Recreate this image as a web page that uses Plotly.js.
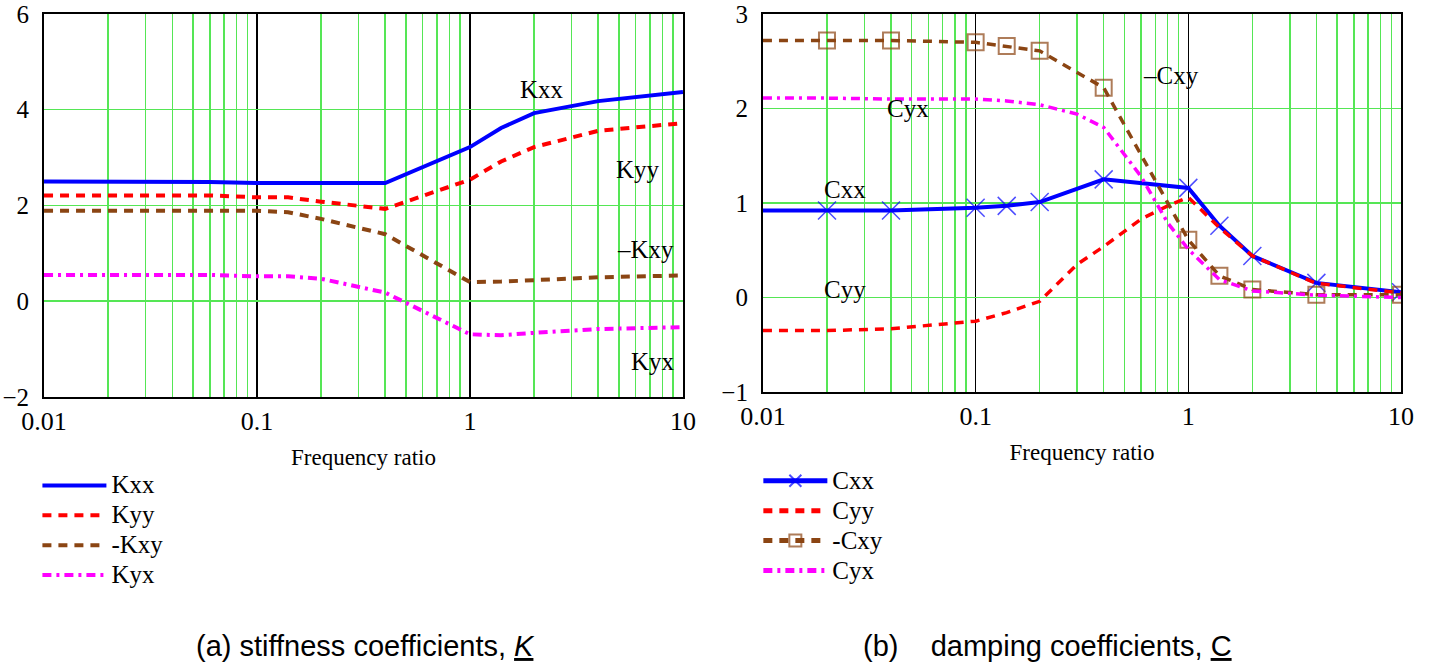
<!DOCTYPE html>
<html>
<head>
<meta charset="utf-8">
<script src="https://cdn.plot.ly/plotly-3.0.1.min.js"></script>
<style>html,body{margin:0;padding:0;background:#fff;}#chart{width:1439px;height:663px;}</style>
</head>
<body>
<div id="chart"></div>
<script>
// ---- Data: stiffness coefficients (a) ----
const freqK = [0.01, 0.02, 0.04, 0.06, 0.1, 0.14, 0.2, 0.4, 1, 1.4, 2, 4, 10];
const Kxx   = [2.50, 2.50, 2.50, 2.49, 2.47, 2.47, 2.47, 2.47, 3.22, 3.62, 3.93, 4.18, 4.37];
const Kyy   = [2.21, 2.21, 2.21, 2.21, 2.17, 2.17, 2.08, 1.93, 2.54, 2.92, 3.22, 3.56, 3.72];
const negKxy= [1.89, 1.89, 1.89, 1.89, 1.89, 1.86, 1.72, 1.40, 0.40, 0.41, 0.44, 0.50, 0.54];
const Kyx   = [0.55, 0.55, 0.55, 0.55, 0.52, 0.52, 0.47, 0.18, -0.69, -0.71, -0.66, -0.58, -0.54];

// ---- Data: damping coefficients (b) ----
const freqC = [0.01, 0.02, 0.04, 0.1, 0.14, 0.2, 0.4, 1, 1.4, 2, 4, 10];
const Cxx   = [0.92, 0.92, 0.92, 0.95, 0.97, 1.01, 1.25, 1.16, 0.76, 0.44, 0.155, 0.056];
const negCxy= [2.72, 2.72, 2.72, 2.70, 2.66, 2.61, 2.22, 0.61, 0.23, 0.085, 0.03, 0.03];
const freqC2= [0.01, 0.02, 0.04, 0.1, 0.14, 0.2, 0.3, 0.4, 0.6, 0.8, 1, 1.4, 2, 4, 10];
const Cyy   = [-0.35, -0.35, -0.33, -0.25, -0.16, -0.04, 0.35, 0.54, 0.83, 0.97, 1.06, 0.74, 0.44, 0.15, 0.05];
const Cyx   = [2.11, 2.11, 2.10, 2.10, 2.08, 2.04, 1.94, 1.80, 1.28, 0.79, 0.51, 0.19, 0.07, 0.025, 0.0];

// ---- Labels ----
const kNames = ['Kxx', 'Kyy', '-Kxy', 'Kyx'];
const cNames = ['Cxx', 'Cyy', '-Cxy', 'Cyx'];
const xTitle = 'Frequency ratio';
const captionA = '(a) stiffness coefficients, <i><u>K</u></i>';
const captionB = '(b)\u00a0\u00a0\u00a0 damping coefficients, <u>C</u>';

const SERIF = 'Liberation Serif, Times New Roman, serif';
const SANS = 'Liberation Sans, Arial, sans-serif';
const GREEN = '#55e655';
const BLUE = '#0000ff', RED = '#ff0000', BROWN = '#8b4513', MAGENTA = '#ff00ff';

const markerSizes = (n, s) => Array.from({length: n}, (_, i) => i === 0 ? 0 : s);
const big = t => '<span style="font-size:25px">' + t + '</span>';

const traces = [
  {x: freqK, y: Kxx, name: big(kNames[0]), mode: 'lines', xaxis: 'x', yaxis: 'y', legend: 'legend',
   line: {color: BLUE, width: 4}},
  {x: freqK, y: Kyy, name: big(kNames[1]), mode: 'lines', xaxis: 'x', yaxis: 'y', legend: 'legend',
   line: {color: RED, width: 4, dash: '9px,7px'}},
  {x: freqK, y: negKxy, name: big(kNames[2]), mode: 'lines', xaxis: 'x', yaxis: 'y', legend: 'legend',
   line: {color: BROWN, width: 4, dash: '9px,7px'}},
  {x: freqK, y: Kyx, name: big(kNames[3]), mode: 'lines', xaxis: 'x', yaxis: 'y', legend: 'legend',
   line: {color: MAGENTA, width: 4, dash: '9px,5px,3px,5px'}},

  {x: freqC, y: Cxx, name: big(cNames[0]), mode: 'lines+markers', xaxis: 'x2', yaxis: 'y2', legend: 'legend2',
   line: {color: BLUE, width: 4},
   marker: {symbol: 'x-thin-open', size: markerSizes(freqC.length, 18), color: BLUE, line: {color: BLUE, width: 1.5}}},
  {x: freqC2, y: Cyy, name: big(cNames[1]), mode: 'lines', xaxis: 'x2', yaxis: 'y2', legend: 'legend2',
   line: {color: RED, width: 3.5, dash: '9px,7px'}},
  {x: freqC, y: negCxy, name: big(cNames[2]), mode: 'lines+markers', xaxis: 'x2', yaxis: 'y2', legend: 'legend2',
   line: {color: BROWN, width: 3.5, dash: '9px,7px'},
   marker: {symbol: 'square-open', size: markerSizes(freqC.length, 16), color: BROWN, line: {color: BROWN, width: 2}}},
  {x: freqC2, y: Cyx, name: big(cNames[3]), mode: 'lines', xaxis: 'x2', yaxis: 'y2', legend: 'legend2',
   line: {color: MAGENTA, width: 3.5, dash: '9px,5px,3px,5px'}}
];

function xAxis(domain, anchor) {
  return {
    type: 'log', range: [-2, 1], dtick: 1, domain: domain, anchor: anchor,
    showgrid: true, gridcolor: '#000000', gridwidth: 1.5,
    minor: {dtick: 'D1', showgrid: true, gridcolor: GREEN, gridwidth: 1.5, ticks: ''},
    showline: true, mirror: true, linecolor: '#000000', linewidth: 2,
    ticks: '', tickfont: {family: SERIF, size: 26, color: '#000'},
    title: {text: xTitle, font: {family: SERIF, size: 23, color: '#000'}, standoff: 14},
    zeroline: false, automargin: false
  };
}
function yAxis(domain, anchor, range, dtick) {
  return {
    range: range, dtick: dtick, domain: domain, anchor: anchor,
    showgrid: true, gridcolor: GREEN, gridwidth: 1.5,
    showline: true, mirror: true, linecolor: '#000000', linewidth: 2,
    ticks: '', ticklabelstandoff: 8, tickfont: {family: SERIF, size: 25, color: '#000'},
    zeroline: false, automargin: false
  };
}

const labelFont = {family: SERIF, size: 25, color: '#000'};
function lbl(xref, yref, x, y, text) {
  return {xref: xref, yref: yref, x: x, y: y, text: text, showarrow: false, font: labelFont, xanchor: 'center', yanchor: 'middle'};
}

const legendBase = {xanchor: 'left', yanchor: 'top', bgcolor: 'rgba(0,0,0,0)',
  font: {family: SERIF, size: 20.7, color: '#000'}, tracegroupgap: 0, itemwidth: 64};

const layout = {
  width: 1439, height: 663,
  margin: {l: 0, r: 0, t: 0, b: 0},
  paper_bgcolor: '#ffffff', plot_bgcolor: '#ffffff',
  showlegend: true,
  xaxis: xAxis([0.0306, 0.4746], 'y'),
  yaxis: yAxis([0.4012, 0.9789], 'x', [-2, 6], 2),
  xaxis2: xAxis([0.5302, 0.9736], 'y2'),
  yaxis2: yAxis([0.4087, 0.9789], 'x2', [-1, 3], 1),
  legend: Object.assign({}, legendBase, {x: 0.026, y: 0.298}),
  legend2: Object.assign({}, legendBase, {x: 0.527, y: 0.305, itemsizing: 'constant'}),
  annotations: [
    lbl('x', 'y', 0.337, 4.42, 'Kxx'),
    lbl('x', 'y', 0.789, 2.75, 'Kyy'),
    lbl('x', 'y', 0.822, 1.08, '\u2013Kxy'),
    lbl('x', 'y', 0.859, -1.25, 'Kyx'),
    lbl('x2', 'y2', -0.081, 2.35, '\u2013Cxy'),
    lbl('x2', 'y2', -1.319, 2.0, 'Cyx'),
    lbl('x2', 'y2', -1.615, 1.14, 'Cxx'),
    lbl('x2', 'y2', -1.615, 0.085, 'Cyy'),
    {xref: 'paper', yref: 'paper', x: 0.2537, y: 0.026, text: captionA, showarrow: false,
     font: {family: SANS, size: 29, color: '#000'}, xanchor: 'center', yanchor: 'middle'},
    {xref: 'paper', yref: 'paper', x: 0.7276, y: 0.026, text: captionB, showarrow: false,
     font: {family: SANS, size: 29, color: '#000'}, xanchor: 'center', yanchor: 'middle'}
  ]
};

Plotly.newPlot('chart', traces, layout, {staticPlot: true, displayModeBar: false});
</script>
</body>
</html>
